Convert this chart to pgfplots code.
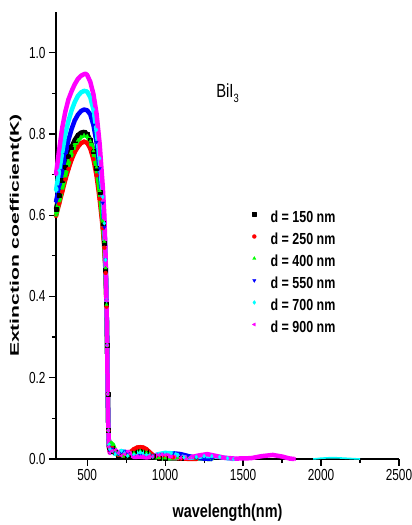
\documentclass[border=0pt]{standalone}
\usepackage{pgfplots}
\pgfplotsset{compat=1.18}
\usepackage{fontspec}
\setmainfont{Liberation Sans}
\newfontfamily\tickfont{Liberation Sans}[FakeStretch=0.74]
\newfontfamily\lblfont{Liberation Sans}[FakeStretch=0.78]
\newfontfamily\ylblfont{Liberation Sans}[FakeStretch=1.69]
\definecolor{cK}{RGB}{0,0,0}
\definecolor{cR}{RGB}{255,0,0}
\definecolor{cG}{RGB}{0,255,0}
\definecolor{cB}{RGB}{0,0,255}
\definecolor{cC}{RGB}{0,255,255}
\definecolor{cM}{RGB}{255,0,255}
\begin{document}
\begin{tikzpicture}
\begin{axis}[
  scale only axis, width=343pt, height=447pt,
  xmin=300, xmax=2500, ymin=0, ymax=1.1,
  axis x line*=bottom, axis y line*=left,
  axis line style={line width=1.4pt},
  tick align=outside,
  major tick length=7pt, minor tick length=4pt,
  every tick/.style={black, line width=1.2pt},
  xtick={500,1000,1500,2000,2500},
  minor xtick={750,1250,1750,2250},
  ytick={0,0.2,0.4,0.6,0.8,1.0},
  minor ytick={0.1,0.3,0.5,0.7,0.9},
  /pgf/number format/assume math mode=true,
  tick label style={font=\tickfont\fontsize{16}{16}\selectfont},
  xticklabel style={/pgf/number format/1000 sep={}},
  yticklabel style={/pgf/number format/.cd, fixed, precision=1, zerofill},
  xlabel={wavelength(nm)}, ylabel={Extinction coefficient(K)},
  every axis x label/.style={at={(axis description cs:0.5,-0.1298)}, anchor=base, font=\lblfont\bfseries\fontsize{18.5}{18.5}\selectfont},
  every axis y label/.style={at={(axis description cs:-0.1079,0.5)}, rotate=90, anchor=base, font=\ylblfont\bfseries\fontsize{12.5}{12.5}\selectfont},
  clip=false,
  legend style={draw=none, fill=none, at={(axis description cs:0.560,0.5526)}, anchor=north west, inner sep=0pt, outer sep=0pt, row sep=8pt, column sep=2pt, font=\lblfont\bfseries\fontsize{16}{16}\selectfont, nodes={inner sep=0pt, text height=11pt, text depth=3pt}},
  legend cell align=left,
  legend image code/.code={\draw[#1, only marks] plot coordinates {(0pt,4.5pt)}; \path (-4pt,0pt) (12pt,0pt);},
  every axis plot/.append style={line width=4.5pt, line join=round, mark size=2pt, every mark/.append style={line width=0.3pt, solid}},
]
\addplot[color=cK, mark=square*] coordinates {
(300,0.615) (320,0.650) (340,0.685) (360,0.718) (380,0.745) (400,0.768) (420,0.785) (440,0.797) (460,0.803) (480,0.805) (500,0.800) (520,0.785) (540,0.758) (560,0.716) (580,0.656) (600,0.580) (610,0.530) (618,0.465) (624,0.380) (628,0.280) (632,0.160) (636,0.070) (640,0.030) (645,0.020) (660,0.030) (680,0.018) (700,0.008) (730,0.006) (760,0.010) (800,0.020) (840,0.025) (880,0.020) (920,0.008) (960,0.003) (1000,0.002) (1100,0.001)
};
\addlegendentry{d = 150 nm}
\addplot[color=cR, mark=*] coordinates {
(300,0.598) (320,0.628) (340,0.658) (360,0.688) (380,0.714) (400,0.737) (420,0.755) (440,0.768) (460,0.777) (480,0.781) (500,0.778) (520,0.764) (540,0.738) (560,0.698) (580,0.640) (600,0.568) (610,0.520) (618,0.458) (624,0.375) (628,0.280) (632,0.160) (636,0.070) (640,0.030) (645,0.020) (660,0.028) (680,0.015) (700,0.010) (730,0.008) (760,0.012) (800,0.024) (820,0.028) (840,0.029) (860,0.028) (880,0.024) (920,0.010) (960,0.004) (1000,0.005) (1050,0.004) (1100,0.001) (1200,0.000)
};
\addlegendentry{d = 250 nm}
\addplot[color=cG, mark=triangle*] coordinates {
(300,0.600) (320,0.635) (340,0.668) (360,0.700) (380,0.728) (400,0.752) (420,0.771) (440,0.784) (460,0.793) (480,0.797) (500,0.795) (520,0.782) (540,0.758) (560,0.718) (580,0.660) (600,0.585) (610,0.535) (618,0.470) (624,0.380) (628,0.280) (632,0.160) (636,0.070) (640,0.035) (650,0.040) (665,0.035) (680,0.020) (700,0.010) (730,0.006) (760,0.008) (800,0.015) (840,0.020) (880,0.016) (920,0.006) (960,0.003) (1000,0.002) (1080,0.003) (1150,0.005) (1200,0.002) (1300,0.000)
};
\addlegendentry{d = 400 nm}
\addplot[color=cB, mark=triangle*, every mark/.append style={rotate=180}] coordinates {
(300,0.632) (320,0.670) (340,0.710) (360,0.750) (380,0.785) (400,0.812) (420,0.833) (440,0.847) (460,0.856) (480,0.860) (500,0.858) (520,0.848) (540,0.822) (560,0.780) (580,0.715) (600,0.630) (610,0.570) (618,0.490) (624,0.390) (628,0.280) (632,0.160) (636,0.070) (640,0.030) (645,0.020) (660,0.025) (680,0.015) (700,0.012) (720,0.016) (740,0.018) (760,0.014) (800,0.008) (840,0.010) (880,0.008) (920,0.008) (960,0.011) (1000,0.013) (1050,0.014) (1100,0.012) (1150,0.007) (1200,0.003) (1250,0.001) (1300,0.000)
};
\addlegendentry{d = 550 nm}
\addplot[color=cC, mark=diamond*] coordinates {
(300,0.660) (320,0.710) (340,0.755) (360,0.800) (380,0.832) (400,0.858) (420,0.878) (440,0.893) (460,0.902) (480,0.906) (500,0.904) (520,0.890) (540,0.860) (560,0.810) (580,0.740) (600,0.645) (610,0.580) (618,0.490) (624,0.390) (628,0.280) (632,0.160) (636,0.070) (640,0.035) (645,0.025) (660,0.020) (680,0.012) (700,0.015) (720,0.020) (740,0.014) (760,0.008) (800,0.010) (840,0.016) (880,0.010) (920,0.006) (960,0.012) (1000,0.015) (1040,0.014) (1080,0.009) (1120,0.004) (1160,0.003) (1200,0.005) (1250,0.007) (1300,0.007) (1350,0.005) (1400,0.002) (1440,0.000)
};
\addlegendentry{d = 700 nm}
\addplot[color=cM, mark=triangle*, every mark/.append style={rotate=90}] coordinates {
(300,0.700) (320,0.760) (340,0.815) (360,0.855) (380,0.885) (400,0.905) (420,0.922) (440,0.935) (460,0.943) (480,0.947) (490,0.948) (500,0.945) (520,0.928) (540,0.898) (560,0.850) (580,0.775) (600,0.670) (610,0.600) (618,0.500) (624,0.390) (628,0.280) (632,0.160) (636,0.070) (640,0.030) (645,0.015) (660,0.020) (680,0.022) (700,0.015) (720,0.008) (740,0.012) (760,0.018) (780,0.012) (800,0.005) (840,0.006) (880,0.004) (920,0.006) (960,0.010) (1000,0.010) (1040,0.006) (1100,0.003) (1160,0.004) (1220,0.009) (1270,0.012) (1320,0.008) (1380,0.003) (1450,0.001) (1550,0.002) (1620,0.007) (1690,0.010) (1750,0.006) (1800,0.001) (1830,0.000)
};
\addlegendentry{d = 900 nm}
\addplot[forget plot, color=cC, line width=1.6pt, mark=none] coordinates {
(1950,0.000) (2000,0.002) (2050,0.003) (2100,0.003) (2150,0.002) (2200,0.001) (2250,0.000)
};
\node[anchor=base west, font=\lblfont\fontsize{19}{19}\selectfont, inner sep=0pt] at (axis cs:1327,0.89) {BiI\raisebox{-5pt}{\fontsize{12}{12}\selectfont 3}};
\end{axis}
\pgfresetboundingbox
\path ([shift={(-56pt,-66pt)}]current axis.south west) rectangle ([shift={(13pt,12pt)}]current axis.north east);
\end{tikzpicture}
\end{document}
